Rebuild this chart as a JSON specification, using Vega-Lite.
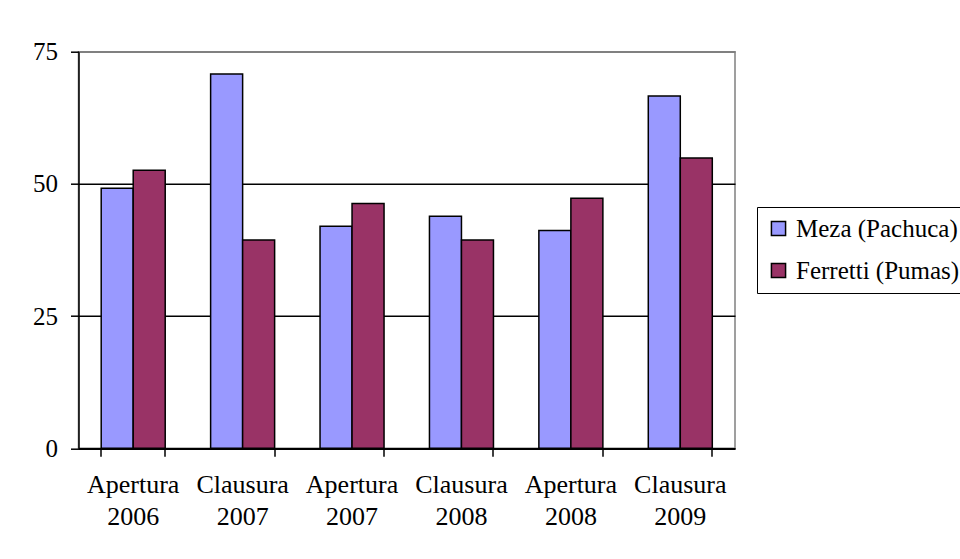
{
  "$schema": "https://vega.github.io/schema/vega-lite/v6.json",
  "width": 656.5,
  "height": 396.6,
  "autosize": {"type": "none"},
  "padding": {"left": 78.5, "top": 51.7, "right": 225, "bottom": 110.7},
  "background": "white",
  "config": {"view": {"stroke": "#808080", "strokeWidth": 1.5}, "font": "Liberation Serif, Times New Roman, serif"},
  "data": {
    "values": [
      {"period": "Apertura 2006", "player": "Meza (Pachuca)", "value": 49.2},
      {"period": "Apertura 2006", "player": "Ferretti (Pumas)", "value": 52.6},
      {"period": "Clausura 2007", "player": "Meza (Pachuca)", "value": 70.8},
      {"period": "Clausura 2007", "player": "Ferretti (Pumas)", "value": 39.4},
      {"period": "Apertura 2007", "player": "Meza (Pachuca)", "value": 42.0},
      {"period": "Apertura 2007", "player": "Ferretti (Pumas)", "value": 46.3},
      {"period": "Clausura 2008", "player": "Meza (Pachuca)", "value": 43.9},
      {"period": "Clausura 2008", "player": "Ferretti (Pumas)", "value": 39.4},
      {"period": "Apertura 2008", "player": "Meza (Pachuca)", "value": 41.2},
      {"period": "Apertura 2008", "player": "Ferretti (Pumas)", "value": 47.3},
      {"period": "Clausura 2009", "player": "Meza (Pachuca)", "value": 66.6},
      {"period": "Clausura 2009", "player": "Ferretti (Pumas)", "value": 54.9}
    ]
  },
  "mark": {"type": "bar", "stroke": "black", "strokeWidth": 1.5},
  "encoding": {
    "x": {
      "field": "period", "type": "nominal", "sort": null,
      "scale": {"paddingInner": 0.415, "paddingOuter": 0.2075},
      "axis": {
        "title": null, "labelAngle": 0, "labelExpr": "split(datum.label, ' ')",
        "labelFontSize": 26, "labelFont": "Liberation Serif, Times New Roman, serif", "labelColor": "black",
        "labelPadding": 15, "labelLineHeight": 32, "labelBaseline": "top",
        "bandPosition": 1, "tickExtra": true, "tickSize": 8, "tickColor": "black", "tickWidth": 1.5,
        "domainColor": "black", "domainWidth": 1.5
      }
    },
    "xOffset": {"field": "player", "type": "nominal", "sort": null},
    "y": {
      "field": "value", "type": "quantitative",
      "scale": {"domain": [0, 75], "nice": false},
      "axis": {
        "title": null, "values": [0, 25, 50, 75], "grid": true,
        "gridColor": {"condition": {"test": "datum.value == 75", "value": "#808080"}, "value": "black"},
        "gridWidth": 1.5,
        "labelFontSize": 25, "labelFont": "Liberation Serif, Times New Roman, serif", "labelColor": "black", "labelPadding": 13,
        "tickSize": 8, "tickColor": "black", "tickWidth": 1.5,
        "domainColor": "black", "domainWidth": 1.5
      }
    },
    "color": {
      "field": "player", "type": "nominal", "sort": null,
      "scale": {"domain": ["Meza (Pachuca)", "Ferretti (Pumas)"], "range": ["#9999FF", "#993366"]},
      "legend": {
        "title": null, "orient": "none", "legendX": 678.5, "legendY": 155.3,
        "strokeColor": "black", "fillColor": "white", "padding": 9, "rowPadding": 16,
        "symbolType": "square", "symbolSize": 200, "symbolStrokeColor": "black", "symbolStrokeWidth": 1.5, "symbolOpacity": 1,
        "labelFontSize": 25, "labelFont": "Liberation Serif, Times New Roman, serif", "labelColor": "black", "labelOffset": 5, "labelLimit": 300
      }
    }
  }
}
